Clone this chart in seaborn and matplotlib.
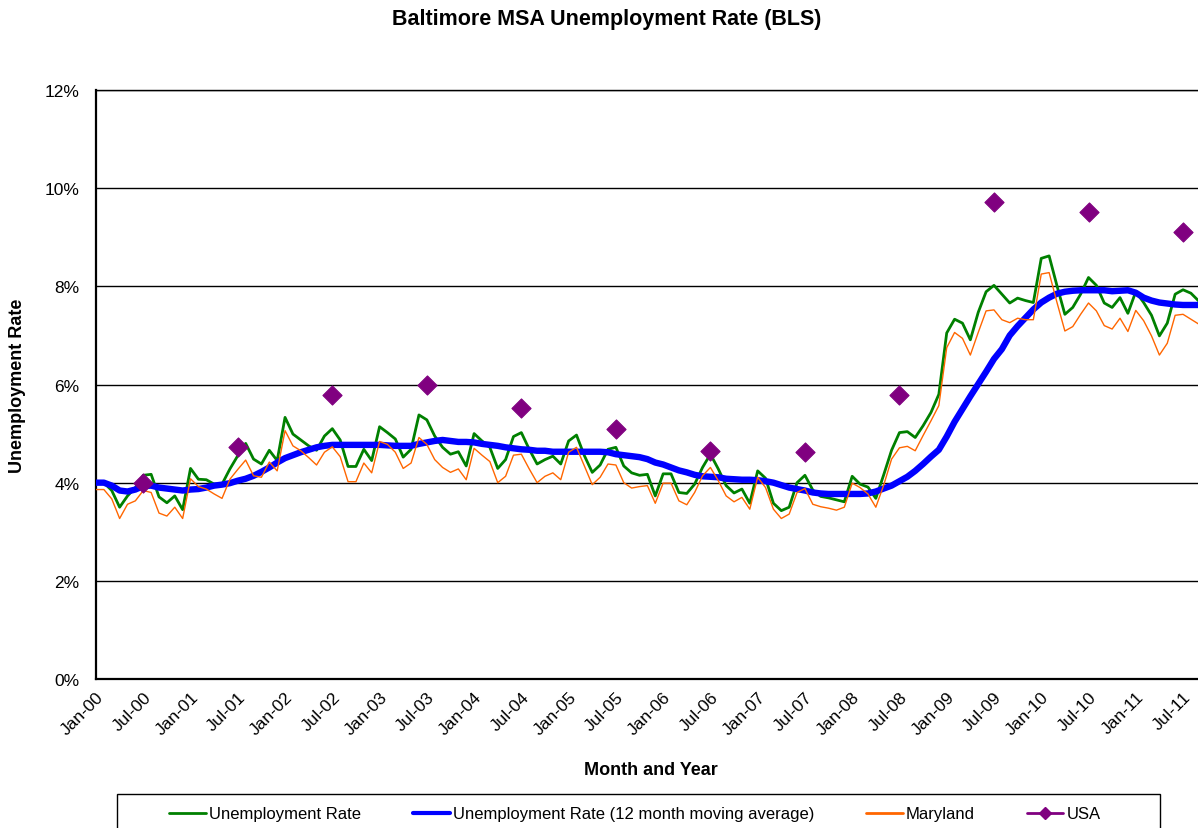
import matplotlib
matplotlib.use("Agg")
import matplotlib.pyplot as plt
from matplotlib.lines import Line2D
from matplotlib.patches import Rectangle
import numpy as np
import pandas as pd
import seaborn as sns

# ---------------- data ----------------
balt_rate = [
    4.01, 4.00, 3.84, 3.50, 3.73, 3.90, 4.15, 4.17, 3.71, 3.59, 3.73, 3.45,
    4.29, 4.07, 4.06, 3.97, 3.97, 4.28, 4.55, 4.80, 4.48, 4.38, 4.66, 4.45,
    5.33, 4.99, 4.87, 4.75, 4.66, 4.95, 5.10, 4.87, 4.33, 4.33, 4.68, 4.45,
    5.14, 5.02, 4.89, 4.52, 4.68, 5.38, 5.28, 4.95, 4.72, 4.58, 4.63, 4.34,
    5.00, 4.85, 4.72, 4.29, 4.47, 4.94, 5.02, 4.68, 4.38, 4.47, 4.54, 4.38,
    4.85, 4.97, 4.55, 4.21, 4.36, 4.68, 4.72, 4.34, 4.20, 4.15, 4.17, 3.73,
    4.18, 4.18, 3.80, 3.78, 3.97, 4.31, 4.58, 4.28, 3.94, 3.79, 3.87, 3.58,
    4.24, 4.09, 3.58, 3.43, 3.50, 4.00, 4.15, 3.85, 3.72, 3.69, 3.65, 3.61,
    4.13, 3.97, 3.91, 3.68, 4.16, 4.66, 5.02, 5.04, 4.92, 5.16, 5.43, 5.80,
    7.05, 7.33, 7.25, 6.91, 7.47, 7.89, 8.02, 7.84, 7.66, 7.76, 7.71, 7.67,
    8.57, 8.62, 8.01, 7.43, 7.57, 7.84, 8.18, 8.02, 7.66, 7.57, 7.77, 7.45,
    7.89, 7.67, 7.41, 6.99, 7.25, 7.84, 7.93, 7.86, 7.70,
]
balt_ma12 = [
    4.00, 4.00, 3.94, 3.84, 3.82, 3.86, 3.93, 3.94, 3.90, 3.88, 3.86, 3.84,
    3.86, 3.87, 3.90, 3.94, 3.96, 3.99, 4.04, 4.08, 4.14, 4.22, 4.31, 4.41,
    4.50, 4.56, 4.62, 4.67, 4.72, 4.75, 4.77, 4.77, 4.77, 4.77, 4.77, 4.77,
    4.77, 4.76, 4.75, 4.75, 4.75, 4.79, 4.82, 4.85, 4.87, 4.85, 4.83, 4.83,
    4.82, 4.79, 4.77, 4.75, 4.72, 4.70, 4.68, 4.67, 4.65, 4.65, 4.63, 4.63,
    4.63, 4.63, 4.63, 4.63, 4.63, 4.62, 4.58, 4.56, 4.54, 4.52, 4.48, 4.41,
    4.37, 4.31, 4.25, 4.21, 4.16, 4.13, 4.12, 4.11, 4.08, 4.07, 4.06, 4.06,
    4.05, 4.03, 4.00, 3.95, 3.90, 3.87, 3.84, 3.80, 3.78, 3.77, 3.77, 3.77,
    3.77, 3.77, 3.78, 3.82, 3.88, 3.94, 4.03, 4.12, 4.24, 4.38, 4.53, 4.67,
    4.94, 5.24, 5.50, 5.76, 6.01, 6.26, 6.52, 6.72, 7.00, 7.19, 7.36, 7.53,
    7.67, 7.77, 7.85, 7.89, 7.91, 7.92, 7.92, 7.92, 7.92, 7.90, 7.91, 7.92,
    7.87, 7.77, 7.71, 7.67, 7.65, 7.63, 7.62, 7.62, 7.62,
]
maryland_rate = [
    3.86, 3.86, 3.67, 3.27, 3.56, 3.63, 3.84, 3.80, 3.38, 3.32, 3.50, 3.27,
    4.08, 3.92, 3.87, 3.77, 3.68, 4.07, 4.27, 4.46, 4.14, 4.11, 4.42, 4.24,
    5.06, 4.75, 4.65, 4.51, 4.36, 4.62, 4.73, 4.53, 4.02, 4.02, 4.40, 4.20,
    4.84, 4.78, 4.62, 4.29, 4.40, 4.92, 4.78, 4.47, 4.31, 4.21, 4.28, 4.06,
    4.70, 4.56, 4.43, 4.00, 4.13, 4.56, 4.58, 4.28, 4.00, 4.13, 4.20, 4.06,
    4.62, 4.72, 4.34, 3.96, 4.11, 4.38, 4.36, 4.00, 3.89, 3.92, 3.94, 3.58,
    3.99, 3.99, 3.63, 3.55, 3.80, 4.14, 4.31, 4.04, 3.73, 3.61, 3.70, 3.46,
    4.11, 3.90, 3.46, 3.27, 3.36, 3.80, 3.88, 3.56, 3.51, 3.48, 3.44, 3.50,
    3.99, 3.90, 3.77, 3.50, 3.95, 4.48, 4.71, 4.74, 4.65, 4.96, 5.26, 5.57,
    6.75, 7.06, 6.94, 6.60, 7.06, 7.50, 7.52, 7.32, 7.26, 7.35, 7.32, 7.32,
    8.25, 8.28, 7.67, 7.09, 7.18, 7.43, 7.66, 7.50, 7.20, 7.13, 7.35, 7.08,
    7.51, 7.30, 6.99, 6.60, 6.84, 7.41, 7.43, 7.33, 7.23,
]
usa_months = [6, 18, 30, 42, 54, 66, 78, 90, 102, 114, 126, 138]
usa_rate = [4.0, 4.73, 5.79, 6.0, 5.53, 5.09, 4.64, 4.63, 5.78, 9.71, 9.52, 9.11]

tick_months = list(range(0, 139, 6))
tick_labels = [
    "Jan-00", "Jul-00", "Jan-01", "Jul-01", "Jan-02", "Jul-02", "Jan-03", "Jul-03",
    "Jan-04", "Jul-04", "Jan-05", "Jul-05", "Jan-06", "Jul-06", "Jan-07", "Jul-07",
    "Jan-08", "Jul-08", "Jan-09", "Jul-09", "Jan-10", "Jul-10", "Jan-11", "Jul-11",
]
y_ticks = [0, 2, 4, 6, 8, 10, 12]

labels = ["Unemployment Rate", "Unemployment Rate (12 month moving average)",
          "Maryland", "USA"]

# ---------------- style ----------------
sns.set_style("white")
plt.rcParams["font.family"] = ["Liberation Sans", "DejaVu Sans"]
plt.rcParams["text.color"] = "black"
plt.rcParams["axes.labelcolor"] = "black"
plt.rcParams["xtick.color"] = "black"
plt.rcParams["ytick.color"] = "black"

W, H = 1198, 829
fig = plt.figure(figsize=(W / 100, H / 100), dpi=100)
ax = fig.add_axes([96 / W, 1 - 680 / H, (W - 96) / W, (680 - 91) / H])

months = np.arange(len(balt_rate))
df = pd.DataFrame({"month": months, "balt": balt_rate, "ma": balt_ma12,
                   "md": maryland_rate})
usa_df = pd.DataFrame({"month": usa_months, "usa": usa_rate})

green = "#008000"
blue = "#0000FF"
orange = "#FF6600"
purple = "#800080"

sns.lineplot(data=df, x="month", y="balt", ax=ax, color=green, lw=2.0, zorder=3)
sns.lineplot(data=df, x="month", y="ma", ax=ax, color=blue, lw=4.6, zorder=4,
             solid_capstyle="round")
sns.lineplot(data=df, x="month", y="md", ax=ax, color=orange, lw=1.0, zorder=5)
sns.scatterplot(data=usa_df, x="month", y="usa", ax=ax,
                marker="D", s=95, color=purple, edgecolor=purple, zorder=6)

ax.set_xlim(0, (W - 96) / 7.877)
ax.set_ylim(0, 12)
ax.set_yticks(y_ticks)
ax.set_yticklabels([f"{v}%" for v in y_ticks])
ax.set_xticks(tick_months)
ax.set_xticklabels(tick_labels, rotation=45, ha="right", rotation_mode="anchor")
ax.tick_params(axis="both", labelsize=12.5, colors="black", direction="out",
               length=5, width=1.2)
ax.tick_params(axis="x", pad=2)
ax.tick_params(axis="y", pad=7)
ax.set_xlabel("")
ax.set_ylabel("")

ax.yaxis.grid(True, color="black", lw=1.0)
ax.xaxis.grid(False)
for side in ["left", "bottom"]:
    ax.spines[side].set_color("black")
    ax.spines[side].set_linewidth(1.6)
ax.spines["right"].set_visible(False)
ax.spines["top"].set_color("black")
ax.spines["top"].set_linewidth(1.0)
ax.set_axisbelow(True)

fig.text(607 / W, 1 - 19 / H, "Baltimore MSA Unemployment Rate (BLS)",
         ha="center", va="center", fontsize=15.5, fontweight="bold")
fig.text(18 / W, 1 - 386 / H, "Unemployment Rate", rotation=90,
         ha="center", va="center", fontsize=13, fontweight="bold")
fig.text(651 / W, 1 - 771 / H, "Month and Year", ha="center", va="center",
         fontsize=13, fontweight="bold")

handles = [
    Line2D([], [], color=green, lw=2.0),
    Line2D([], [], color=blue, lw=3.0),
    Line2D([], [], color=orange, lw=2.0),
    Line2D([], [], color=purple, lw=2.0, marker="D", markersize=6),
]
fig.legend(handles, labels, loc="center", bbox_to_anchor=(635 / W, 1 - 815 / H),
           ncol=4, frameon=False, fontsize=12, handlelength=2.2,
           handletextpad=0.2, columnspacing=3.1)
fig.patches.append(Rectangle((117 / W, 1 - 860 / H), (1160 - 117) / W, 65 / H,
                             transform=fig.transFigure, fill=False,
                             edgecolor="black", lw=1.0))

fig.savefig("out.png", dpi=100)
